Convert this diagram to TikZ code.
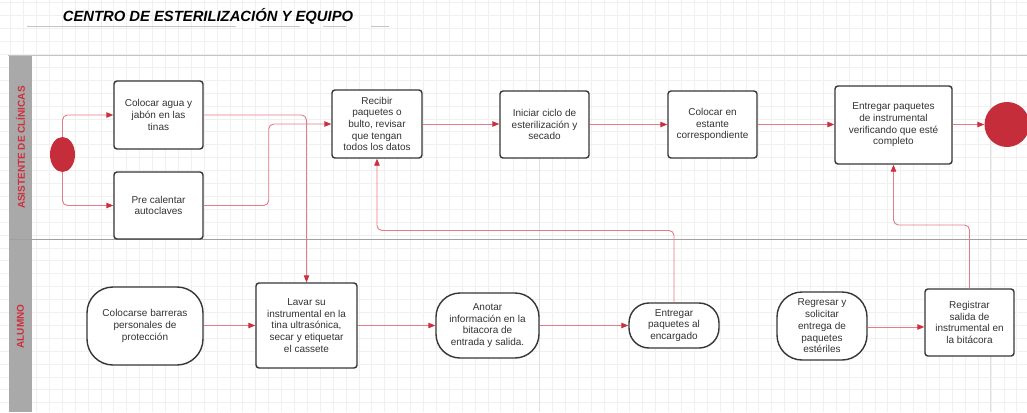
\documentclass[tikz,border=0pt]{standalone}
\usepackage{fontspec}
\setmainfont{Liberation Sans}
\usetikzlibrary{arrows.meta,calc,shapes.geometric}
\definecolor{gridc}{HTML}{F0F0F0}
\definecolor{gridd}{HTML}{E0E0E0}
\definecolor{lanegray}{HTML}{A9A9A9}
\definecolor{poolline}{HTML}{C4C4C4}
\definecolor{sepline}{HTML}{A0A0A0}
\definecolor{flowline}{HTML}{E47C87}
\definecolor{tipred}{HTML}{CC2F3D}
\definecolor{fillred}{HTML}{C62D3A}
\definecolor{boxborder}{HTML}{363636}
\definecolor{txt}{HTML}{333333}
\tikzset{
  procbox/.style={draw=boxborder, line width=1.4pt, rounded corners=3pt, fill=white,
    align=center, text=txt, font=\fontsize{10}{11.7}\selectfont, inner sep=2pt},
  termbox/.style={procbox, rounded corners=22pt},
  flow/.style={draw=flowline, line width=0.9pt, rounded corners=5pt,
    -{Triangle[length=7pt,width=5.5pt,color=tipred]}},
  lanelabel/.style={rotate=90, text=tipred, font=\fontsize{10}{12}\selectfont\bfseries},
  underl/.style={draw=poolline, line width=1.5pt}
}
\begin{document}
\begin{tikzpicture}[x=1pt,y=-1pt]
\useasboundingbox (0,0) rectangle (1027,412);
\fill[white] (0,0) rectangle (1027,412);
% grid
\foreach \i in {0,...,79} {\draw[gridc, line width=0.8pt] ({10.6+12.9*\i},0) -- ({10.6+12.9*\i},412);}
\foreach \j in {0,...,31} {\draw[gridc, line width=0.8pt] (0,{2.8+12.9*\j}) -- (1027,{2.8+12.9*\j});}
\draw[gridd, line width=0.8pt] (539.3,0) -- (539.3,412);
\draw[gridd, line width=0.8pt] (990.7,0) -- (990.7,412);
% title
\node[font=\fontsize{14.8}{16}\selectfont\bfseries\itshape, text=black] (title) at (208,16) {CENTRO DE ESTERILIZACIÓN Y EQUIPO};
\draw[underl] (27,26.7) -- (236,26.7);
\draw[underl] (260,26.7) -- (300,26.7);
\draw[underl] (323,26.7) -- (346,26.7);
\draw[underl] (371,26.7) -- (389,26.7);
% pool
\fill[lanegray] (9,56) rectangle (32,412);
\draw[poolline, line width=1.8pt] (8,55.5) -- (1027,55.5);
\draw[sepline, line width=0.7pt] (9,239) -- (1027,239);
\node[lanelabel] (lane1) at (20.5,147.5) {ASISTENTE DE CLÍNICAS};
\node[lanelabel] (lane2) at (20.5,326.5) {ALUMNO};
% lane 1 nodes
\node[ellipse, fill=fillred, minimum width=25pt, minimum height=35pt, inner sep=0pt] (start) at (62.5,154.5) {};
\node[procbox, minimum width=89pt, minimum height=68pt] (a1) at (158.5,115) {Colocar agua y\\jabón en las\\tinas};
\node[procbox, minimum width=89pt, minimum height=67pt] (a2) at (158.5,205.5) {Pre calentar\\autoclaves};
\node[procbox, minimum width=90pt, minimum height=68pt] (recibir) at (377,124) {Recibir\\paquetes o\\bulto, revisar\\que tengan\\todos los datos};
\node[procbox, minimum width=89pt, minimum height=67pt] (iniciar) at (544.5,124.5) {Iniciar ciclo de\\esterilización y\\secado};
\node[procbox, minimum width=89pt, minimum height=67pt] (estante) at (712.5,124.5) {Colocar en\\estante\\correspondiente};
\node[procbox, minimum width=117pt, minimum height=78pt] (entregar) at (893.5,125) {Entregar paquetes\\de instrumental\\verificando que esté\\completo};
\node[circle, fill=fillred, minimum size=45pt, inner sep=0pt] (fin) at (1007,124.5) {};
% lane 2 nodes
\node[termbox, minimum width=116pt, minimum height=78pt, rounded corners=26pt] (barreras) at (145,326) {Colocarse barreras\\personales de\\protección};
\node[procbox, minimum width=101pt, minimum height=85pt] (lavar) at (306.5,325.5) {Lavar su\\instrumental en la\\tina ultrasónica,\\secar y etiquetar\\el cassete};
\node[termbox, minimum width=103pt, minimum height=65pt, rounded corners=24pt] (anotar) at (487.5,325.5) {Anotar\\información en la\\bitacora de\\entrada y salida.};
\node[termbox, minimum width=90pt, minimum height=45pt, rounded corners=20pt] (encargado) at (674,325.5) {Entregar\\paquetes al\\encargado};
\node[termbox, minimum width=90pt, minimum height=68pt, rounded corners=25pt] (regresar) at (822,326) {Regresar y\\solicitar\\entrega de\\paquetes\\estériles};
\node[procbox, minimum width=89pt, minimum height=67pt] (registrar) at (969.5,322.5) {Registrar\\salida de\\instrumental en\\la bitácora};
% connectors
\draw[flow] (start.north) |- (a1.west);
\draw[flow] (start.south) |- (a2.west);
\draw[flow] (a1.east) -| (lavar.north);
\draw[flow] (a2.east) -- ++(65,0) |- (recibir.west);
\draw[flow] (recibir.east) -- (iniciar.west |- recibir.east);
\draw[flow] (iniciar) -- (estante);
\draw[flow] (estante.east) -- (entregar.west |- estante.east);
\draw[flow] (entregar.east |- fin.west) -- (fin.west);
\draw[flow] (encargado.north) -- (encargado.north |- 0,230.5) -| (recibir.south);
\draw[flow] (registrar.north) -- (registrar.north |- 0,225) -| (entregar.south);
\draw[flow] (barreras.east |- lavar.west) -- (lavar.west);
\draw[flow] (lavar.east) -- (anotar.west |- lavar.east);
\draw[flow] (anotar.east) -- (encargado.west |- anotar.east);
\draw[flow] (regresar.east |- 0,327) -- (registrar.west |- 0,327);
\end{tikzpicture}
\end{document}
